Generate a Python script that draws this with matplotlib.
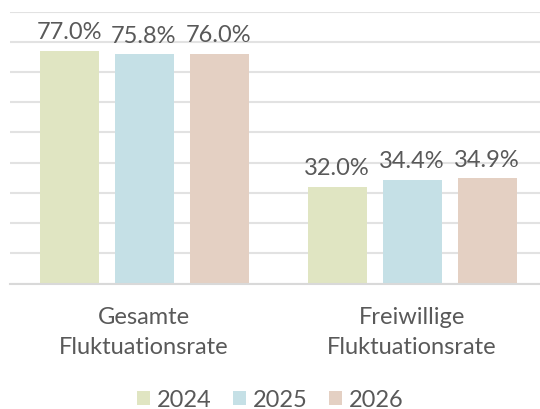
import matplotlib

matplotlib.use("Agg")
import matplotlib.pyplot as plt
import numpy as np

categories = ["Gesamte\nFluktuationsrate", "Freiwillige\nFluktuationsrate"]
years = ["2024", "2025", "2026"]
values_2024 = [77.0, 32.0]
values_2025 = [75.8, 34.4]
values_2026 = [76.0, 34.9]
series = [values_2024, values_2025, values_2026]
colors = ["#e0e5c2", "#c5e0e6", "#e4d0c3"]

TEXT = "#595959"
plt.rcParams["font.family"] = ["Lato", "DejaVu Sans"]

fig = plt.figure(figsize=(5.4, 4.1), dpi=100)
# plot area: baseline at ~284 px, top gridline at ~12 px
ax = fig.add_axes([10 / 540, 125.5 / 410, 530 / 540, 272 / 410])

x = np.arange(len(categories))
width = 59 / 268
step = 75 / 268
for i, (vals, col, yr) in enumerate(zip(series, colors, years)):
    pos = x + (i - 1) * step
    bars = ax.bar(pos, vals, width, color=col, label=yr, zorder=2)
    for b, v in zip(bars, vals):
        ax.annotate(f"{v:.1f}%", (b.get_x() + b.get_width() / 2, v),
                    xytext=(0, 6), textcoords="offset points",
                    ha="center", va="bottom", fontsize=17, color=TEXT)

ax.set_ylim(0, 90)
ax.set_xlim(-0.5, -0.5 + 530 / 268)
ax.set_yticks(np.arange(0, 91, 10))
ax.yaxis.grid(True, color="#e2e2e2", linewidth=1.5, zorder=0)
ax.tick_params(left=False, labelleft=False, bottom=False)
ax.set_xticks(x)
ax.set_xticklabels(categories, fontsize=17, color=TEXT, linespacing=1.52)
ax.tick_params(axis="x", pad=13)
for s in ["top", "right", "left"]:
    ax.spines[s].set_visible(False)
ax.spines["bottom"].set_color("#d9d9d9")
ax.spines["bottom"].set_linewidth(1.5)

leg = fig.legend(loc="center", bbox_to_anchor=(0.5, 9 / 410), ncol=3,
                 frameon=False, fontsize=17, handlelength=0.55, handleheight=0.55,
                 handletextpad=0.3, columnspacing=0.9)
for t in leg.get_texts():
    t.set_color(TEXT)

fig.savefig("out.png", dpi=100)
